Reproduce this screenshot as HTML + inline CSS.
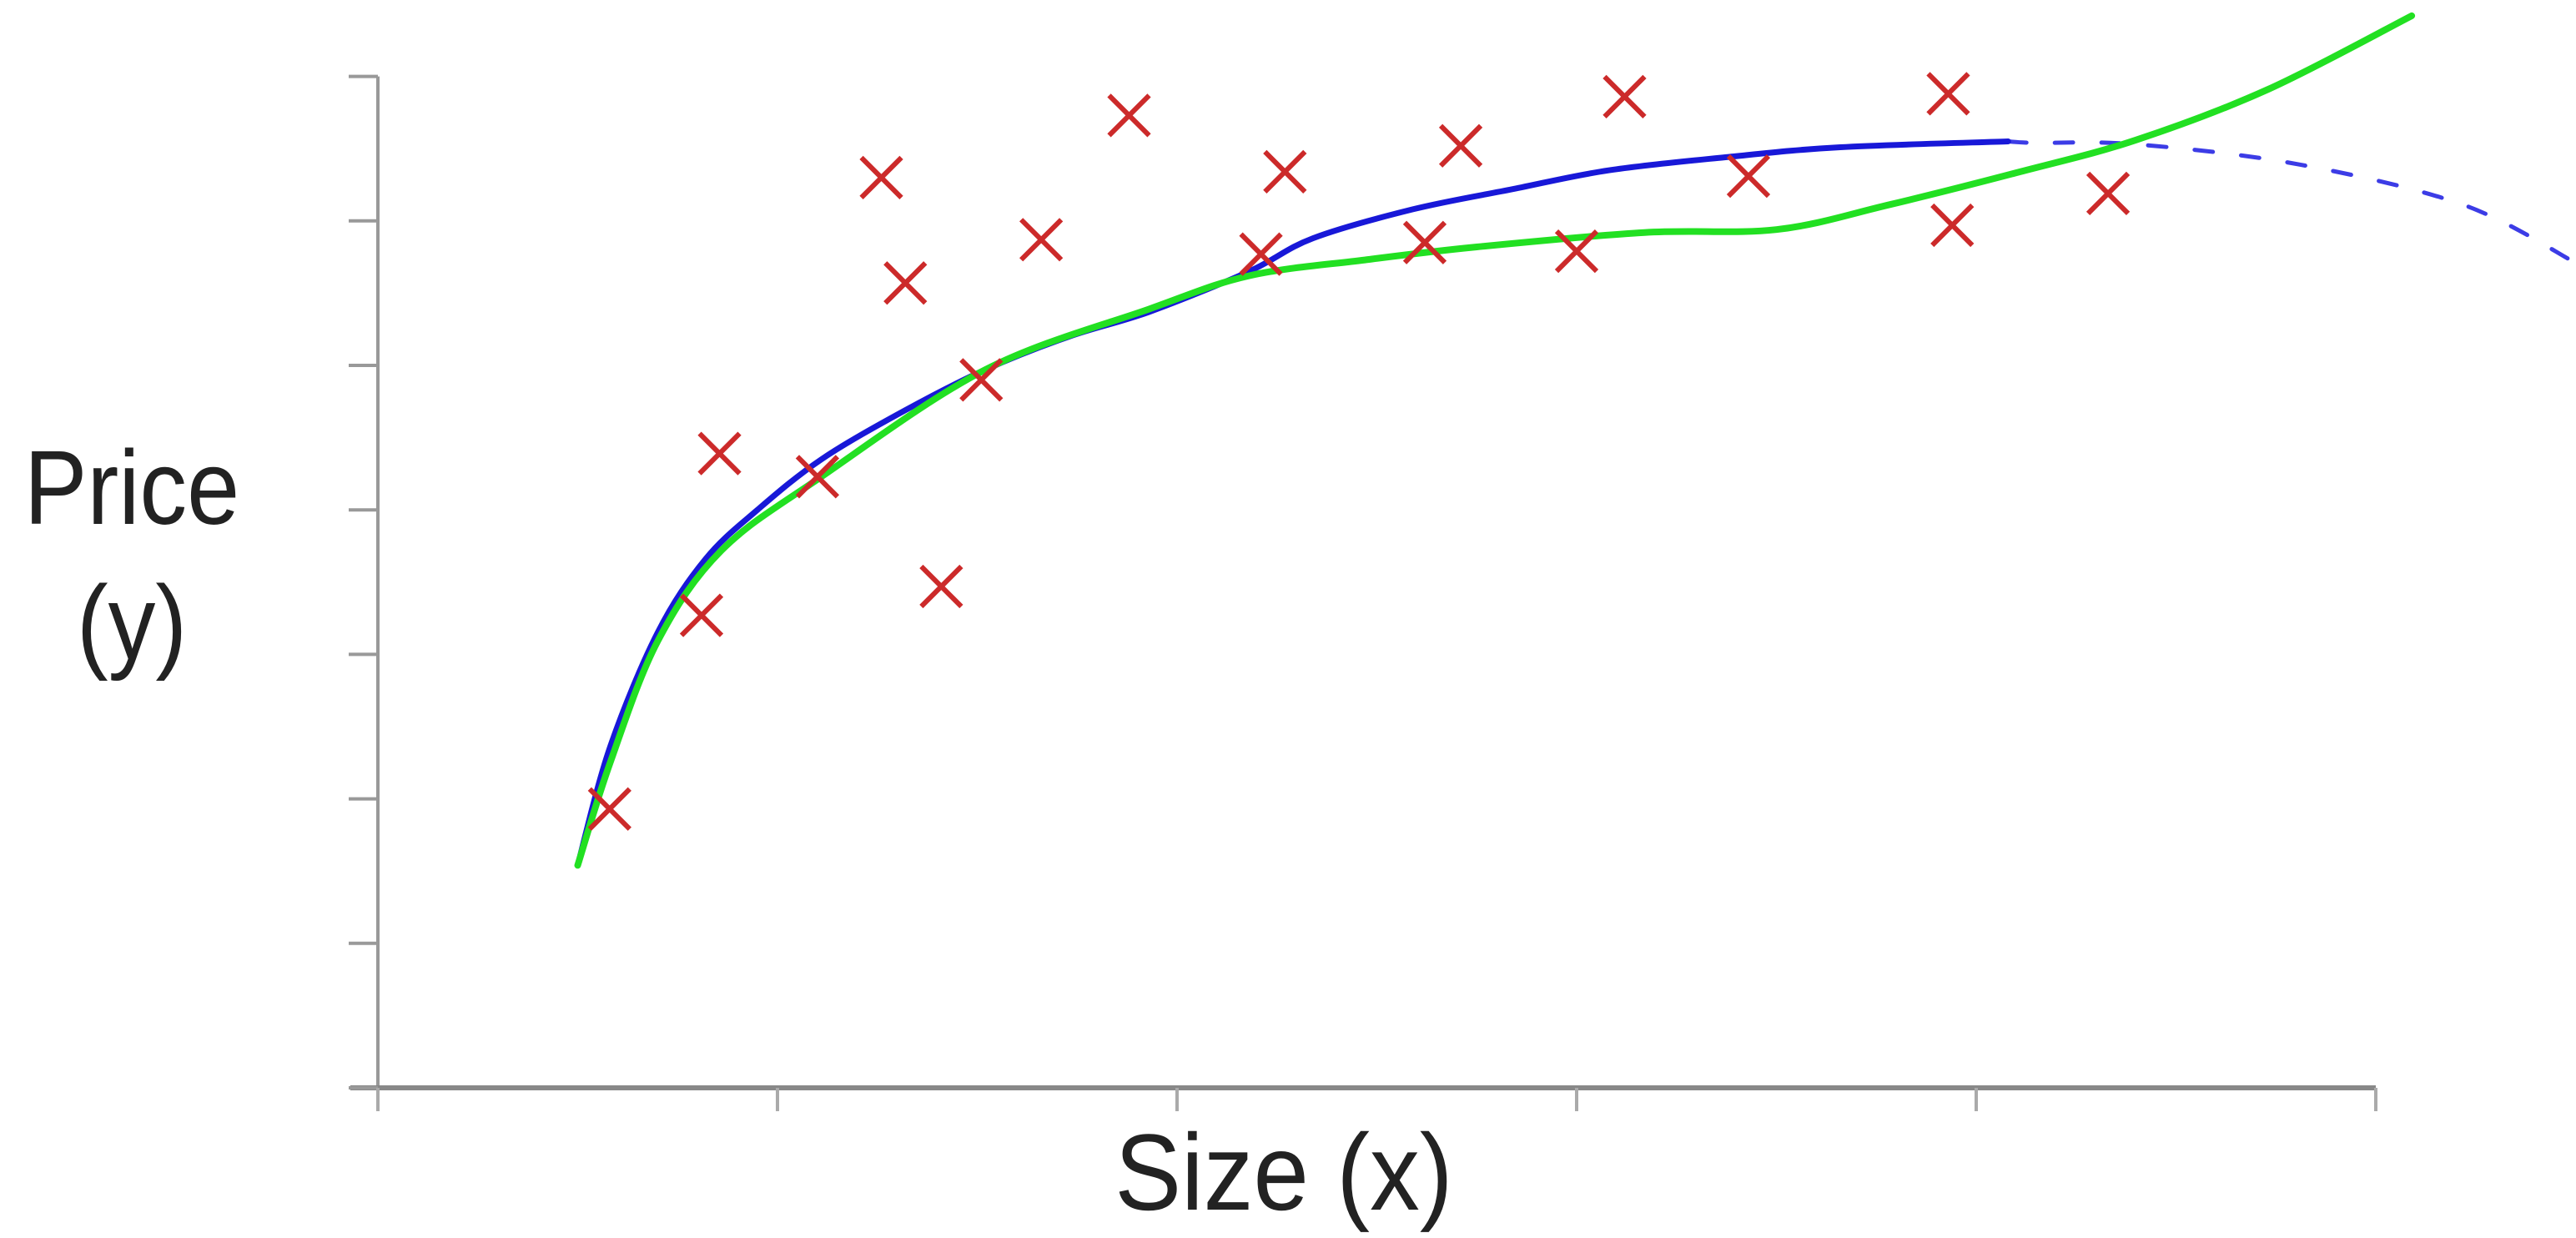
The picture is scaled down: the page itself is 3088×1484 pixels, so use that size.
<!DOCTYPE html>
<html><head><meta charset="utf-8"><style>
html,body{margin:0;padding:0;background:#fff;}
svg{display:block;}
text{font-family:"Liberation Sans",sans-serif;fill:#222;}
</style></head><body>
<svg id="chart" width="3088" height="1484" viewBox="0 0 3088 1484" xmlns="http://www.w3.org/2000/svg">
<g id="axes"></g>
<g id="curves"></g>
<g id="points"></g>
<text x="158" y="628" font-size="126" text-anchor="middle" transform="translate(158 0) scale(0.9 1) translate(-158 0)">Price</text>
<text x="158" y="790" font-size="126" text-anchor="middle" transform="translate(158 0) scale(0.9 1) translate(-158 0)">(y)</text>
<text x="1539" y="1450" font-size="130" text-anchor="middle" transform="translate(1539 0) scale(0.92 1) translate(-1539 0)">Size (x)</text>
</svg>
<script>
const pointsX=[0.58,0.81,0.855,1.10,1.26,1.32,1.41,1.51,1.66,1.88,2.21,2.27,2.62,2.71,3.00,3.12,3.43,3.93,3.94,4.33];
const pointsY=[1.93,3.27,4.39,4.23,6.30,5.57,3.47,4.90,5.87,6.73,5.77,6.34,5.85,6.52,5.79,6.86,6.31,6.88,5.97,6.19];
const blueX=[0.50,0.58,0.70,0.82,0.95,1.11,1.32,1.52,1.73,1.93,2.18,2.34,2.59,2.84,3.08,3.37,3.66,4.08];
const blueY=[1.54,2.35,3.15,3.66,4.00,4.35,4.69,4.97,5.20,5.37,5.65,5.88,6.08,6.22,6.35,6.44,6.51,6.55];
const blueDashX=[4.08,4.15,4.40,4.81,5.22,5.50];
const blueDashY=[6.55,6.54,6.53,6.39,6.11,5.71];
const greenX=[0.50,0.58,0.70,0.86,1.11,1.52,1.93,2.18,2.47,2.75,3.17,3.50,3.78,4.11,4.40,4.73,5.09];
const greenY=[1.54,2.24,3.09,3.72,4.23,4.97,5.39,5.62,5.73,5.82,5.92,5.94,6.11,6.34,6.56,6.91,7.42];
const xTicks=[0,1,2,3,4,5];
const yTicks=[0,1,2,3,4,5,6,7];

const NS="http://www.w3.org/2000/svg";
const X0=453,XU=479,Y0=1304,YU=173.2;
const sx=v=>X0+v*XU, sy=v=>Y0-v*YU;
function mk(tag,attrs,parent){const e=document.createElementNS(NS,tag);for(const k in attrs)e.setAttribute(k,attrs[k]);parent.appendChild(e);return e;}
const axes=document.getElementById('axes'),curves=document.getElementById('curves'),pts=document.getElementById('points');

let a=mk('line',{x1:sx(0),y1:sy(0),x2:sx(0),y2:sy(7),stroke:'#999','stroke-width':4},axes);


a=mk('line',{x1:420,y1:sy(0),x2:sx(5),y2:sy(0),stroke:'#888','stroke-width':6},axes);


yTicks.forEach(t=>{const e=mk('line',{x1:418,y1:sy(t),x2:sx(0),y2:sy(t),stroke:'#999','stroke-width':4},axes);

});
xTicks.forEach(t=>{const e=mk('line',{x1:sx(t),y1:sy(0),x2:sx(t),y2:sy(0)+28,stroke:'#aaa','stroke-width':4},axes);

});

function pathOf(xs,ys){
  const P=xs.map((v,i)=>[sx(v),sy(ys[i])]);
  let d='M'+P[0][0].toFixed(1)+' '+P[0][1].toFixed(1);
  for(let i=0;i<P.length-1;i++){
    const p0=P[i-1]||P[i],p1=P[i],p2=P[i+1],p3=P[i+2]||P[i+1];
    const c1=[p1[0]+(p2[0]-p0[0])/6,p1[1]+(p2[1]-p0[1])/6];
    const c2=[p2[0]-(p3[0]-p1[0])/6,p2[1]-(p3[1]-p1[1])/6];
    d+=` C${c1[0].toFixed(1)} ${c1[1].toFixed(1)} ${c2[0].toFixed(1)} ${c2[1].toFixed(1)} ${p2[0].toFixed(1)} ${p2[1].toFixed(1)}`;
  }
  return d;
}
let p=mk('path',{d:pathOf(blueDashX,blueDashY),fill:'none',stroke:'#3c3ce6','stroke-width':5,'stroke-dasharray':'22 34','stroke-linecap':'round'},curves);


p=mk('path',{d:pathOf(blueX,blueY),fill:'none',stroke:'#1818d8','stroke-width':7,'stroke-linejoin':'round','stroke-linecap':'round'},curves);


p=mk('path',{d:pathOf(greenX,greenY),fill:'none',stroke:'#22e022','stroke-width':8,'stroke-linejoin':'round','stroke-linecap':'round'},curves);



pointsX.forEach((v,i)=>{const cx=sx(v),cy=sy(pointsY[i]),h=24;
const g=mk('g',{},pts);


mk('path',{d:`M${cx-h} ${cy-h}L${cx+h} ${cy+h}M${cx+h} ${cy-h}L${cx-h} ${cy+h}`,stroke:'#cc2a2a','stroke-width':6,fill:'none'},g);});
</script>
</body></html>
